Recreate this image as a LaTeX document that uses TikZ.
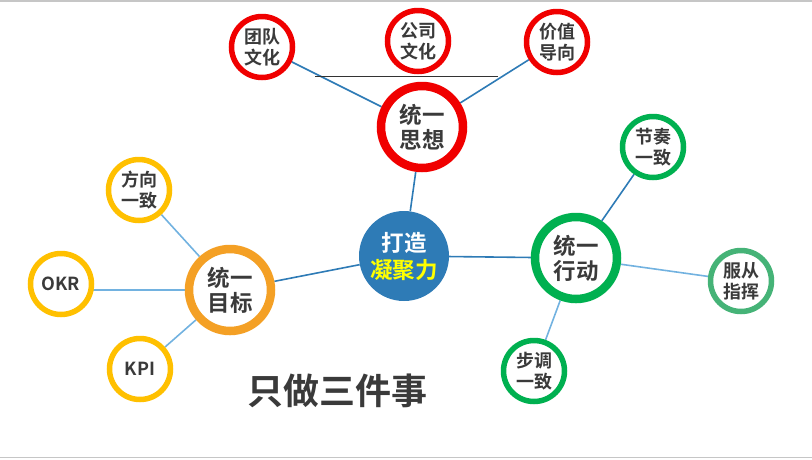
\documentclass[tikz,border=0pt]{standalone}
\usepackage{fontspec}
\setmainfont{Noto Sans CJK SC Bold}
\usetikzlibrary{backgrounds}
\definecolor{txt}{HTML}{3A3A3A}
\definecolor{cblue}{HTML}{2E7BB6}
\definecolor{lblue}{HTML}{72B2E0}
\definecolor{cred}{HTML}{F00000}
\definecolor{corange}{HTML}{F4A025}
\definecolor{cyellow}{HTML}{FFC000}
\definecolor{cgreen}{HTML}{00B050}
\definecolor{lgreen}{HTML}{45B377}
\definecolor{cyel}{HTML}{FFFF00}
\tikzset{
  x=1pt,y=-1pt,
  bigc/.style={circle,draw=#1,line width=8.5pt,fill=white,inner sep=0pt,minimum size=82pt,
    align=center,text=txt,font=\fontsize{22.5}{25}\selectfont},
  smallc/.style={circle,draw=#1,line width=5.5pt,fill=white,inner sep=0pt,minimum size=61pt,
    align=center,text=txt,font=\fontsize{18}{21}\selectfont},
  link/.style={draw=cblue,line width=1.6pt},
  llink/.style={draw=lblue,line width=1.6pt},
}
\begin{document}
\begin{tikzpicture}
\useasboundingbox (0,0) rectangle (812,459);
\draw[gray!45,line width=1.5pt] (0,0.75) -- (812,0.75);
\draw[gray!45,line width=1.5pt] (0,457.5) -- (812,457.5);
% center
\node[circle,fill=cblue,minimum size=90pt,inner sep=0pt,align=center,
  font=\fontsize{22.5}{27}\selectfont] (c) at (404,256)
  {\textcolor{white}{打造}\\\textcolor{cyel}{凝聚力}};
% top group
\node[bigc=cred] (sx) at (422,127) {统一\\思想};
\node[smallc=cred] (td) at (262,47) {团队\\文化};
\node[smallc=cred] (gs) at (418,41) {公司\\文化};
\node[smallc=cred] (jz) at (557,42) {价值\\导向};
\coordinate (hl1) at (315,76);
\coordinate (hl2) at (498,76);
% left group
\node[bigc=corange] (mb) at (230,290) {统一\\目标};
\node[smallc=cyellow] (fx) at (139,190) {方向\\一致};
\node[smallc=cyellow] (okr) at (61,284) {OKR};
\node[smallc=cyellow] (kpi) at (140,369) {KPI};
% right group
\node[bigc=cgreen] (xd) at (576,258) {统一\\行动};
\node[smallc=cgreen] (jzy) at (653,147) {节奏\\一致};
\node[smallc=lgreen] (fc) at (741,281) {服从\\指挥};
\node[smallc=cgreen] (bd) at (534,371) {步调\\一致};
% title
\node[text=txt,font=\fontsize{36}{40}\selectfont] (title) at (337,391) {只做三件事};
\begin{scope}[on background layer]
\draw[link] (c) -- (sx);
\draw[link] (c) -- (mb);
\draw[link] (c) -- (xd);
\draw[link] (sx) -- (td);
\draw[link] (sx) -- (jz);
\draw[llink] (mb) -- (fx);
\draw[llink] (mb) -- (mb -| okr);
\draw[llink] (mb) -- (kpi);
\draw[link] (xd) -- (jzy);
\draw[llink] (xd) -- (fc);
\draw[llink] (xd) -- (bd);
\end{scope}
\draw[black!80,line width=0.8pt] (hl1) -- (hl2);
\end{tikzpicture}
\end{document}
